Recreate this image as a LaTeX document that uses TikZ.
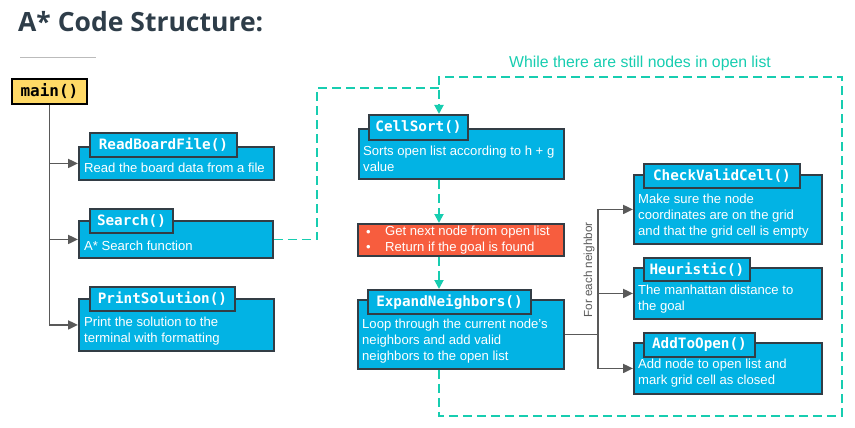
\documentclass[tikz,border=0pt]{standalone}
\usepackage{fontspec}
\setmainfont{Liberation Sans}
\newfontfamily\titlefont{Open Sans}
\newfontfamily\codefont{DejaVu Sans Mono}
\usetikzlibrary{arrows.meta}
\definecolor{ublue}{HTML}{02B3E4}
\definecolor{ured}{HTML}{F75D3E}
\definecolor{uteal}{HTML}{17CDB0}
\definecolor{uyellow}{HTML}{FFD966}
\definecolor{boxline}{HTML}{333D45}
\definecolor{treegrey}{HTML}{595959}
\definecolor{titlecol}{HTML}{2E3D49}
\definecolor{rulegrey}{HTML}{BBBBBB}
\tikzset{
  outerbox/.style={draw=boxline, line width=1.9pt, fill=ublue, anchor=north west, inner sep=0pt},
  redbox/.style={draw=boxline, line width=1.9pt, fill=ured, anchor=north west, inner sep=0pt},
  tabbox/.style={draw=boxline, line width=1.9pt, fill=ublue, anchor=north west, inner sep=0pt, text=white, font=\codefont\bfseries\fontsize{14.3}{16}\selectfont},
  body/.style={anchor=base west, inner sep=0pt, text=white, align=left, font=\fontsize{13.1}{15.6}\selectfont},
  tree/.style={draw=treegrey, line width=1.9pt},
  treearrow/.style={tree, -{Triangle[length=10pt,width=9pt]}},
  loopline/.style={draw=uteal, line width=1.9pt, dash pattern=on 9pt off 5pt},
  looparrow/.style={loopline, -{Triangle[length=9pt,width=9pt]}},
}
\begin{document}
\begin{tikzpicture}[x=1pt,y=-1pt]
\useasboundingbox (0,0) rectangle (855,428);

% title
\node[anchor=base west, inner sep=0pt, text=titlecol, font=\titlefont\bfseries\fontsize{26.5}{30}\selectfont] (title) at (18,32) {A* Code Structure:};
\draw[draw=rulegrey, line width=1pt] (20,58) -- (96,58);

% main
\node[draw=black, line width=1.9pt, fill=uyellow, minimum width=75pt, minimum height=25pt, anchor=north west, inner sep=0pt, font=\codefont\bfseries\fontsize{16}{18}\selectfont] (main) at (11,78) {main()};

% left column
\node[outerbox, minimum width=195pt, minimum height=33pt] (rbf) at (78,146) {};
\node[tabbox, minimum width=147pt, minimum height=24pt] (rbft) at (89,132) {ReadBoardFile()};
\node[body] (rbfb) at (84,172) {Read the board data from a file};

\node[outerbox, minimum width=194pt, minimum height=37pt] (srch) at (78,220) {};
\node[tabbox, minimum width=83pt, minimum height=24pt] (srcht) at (89,208) {Search()};
\node[body] (srchb) at (84,250) {A* Search function};

\node[outerbox, minimum width=195pt, minimum height=52pt] (prt) at (78,298) {};
\node[tabbox, minimum width=145pt, minimum height=24pt] (prtt) at (89,286) {PrintSolution()};
\node[body] (prtb) at (84,342) {Print the solution to the\\terminal with formatting};

% middle column
\node[outerbox, minimum width=205pt, minimum height=50pt] (cs) at (358,128) {};
\node[tabbox, minimum width=99pt, minimum height=25pt] (cst) at (368,114) {CellSort()};
\node[body] (csb) at (363,171) {Sorts open list according to h + g\\value};

\node[redbox, minimum width=206pt, minimum height=32pt] (nxt) at (357,223) {};
\node[body] (nxtb1) at (366,236) {\textbullet};
\node[body] (nxtb2) at (366,251) {\textbullet};
\node[body] (nxtt) at (385,251) {Get next node from open list\\Return if the goal is found};

\node[outerbox, minimum width=206pt, minimum height=69pt] (en) at (357,299) {};
\node[tabbox, minimum width=163pt, minimum height=24pt] (ent) at (367,289) {ExpandNeighbors()};
\node[body] (enb) at (362,360) {Loop through the current node's\\neighbors and add valid\\neighbors to the open list};

% right column
\node[outerbox, minimum width=188pt, minimum height=69pt] (cvc) at (633,174) {};
\node[tabbox, minimum width=156pt, minimum height=24pt] (cvct) at (643,163) {CheckValidCell()};
\node[body] (cvcb) at (638,235) {Make sure the node\\coordinates are on the grid\\and that the grid cell is empty};

\node[outerbox, minimum width=188pt, minimum height=51pt] (heu) at (633,267) {};
\node[tabbox, minimum width=106pt, minimum height=23pt] (heut) at (643,257) {Heuristic()};
\node[body] (heub) at (638,310) {The manhattan distance to\\the goal};

\node[outerbox, minimum width=188pt, minimum height=51pt] (ato) at (633,342) {};
\node[tabbox, minimum width=111pt, minimum height=24pt] (atot) at (643,332) {AddToOpen()};
\node[body] (atob) at (638,384) {Add node to open list and\\mark grid cell as closed};

% tree from main
\draw[treearrow] (main.south) |- (rbf.west);
\draw[treearrow] (main.south) |- (srch.west);
\draw[treearrow] (main.south) |- (prt.west);

% tree from ExpandNeighbors
\coordinate (bx) at (598,0);
\draw[tree] (en.east) -- (en.east -| bx);
\draw[treearrow] (en.east -| bx) |- (cvc.west);
\draw[treearrow] (en.east -| bx) |- (heu.west);
\draw[treearrow] (en.east -| bx) |- (ato.west);
\node[rotate=90, inner sep=0pt, text=treegrey, font=\fontsize{11.7}{14}\selectfont] (fen) at (589,270) {For each neighbor};

% loop
\coordinate (lx) at (439,0);
\coordinate (jog) at (317,88);
\coordinate (loopBR) at (842,416);
\coordinate (loopTL) at (439,77);
\draw[loopline] (srch.east) -| (jog) -- (jog -| lx);
\draw[looparrow] (en.south -| lx) |- (loopBR) |- (loopTL) -- (cst.north -| lx);
\draw[looparrow] (cs.south -| lx) -- (nxt.north -| lx);
\draw[looparrow] (nxt.south -| lx) -- (ent.north -| lx);
\node[anchor=base, inner sep=0pt, text=uteal, font=\fontsize{15.8}{18}\selectfont] (wlabel) at (640,68) {While there are still nodes in open list};
\end{tikzpicture}
\end{document}
